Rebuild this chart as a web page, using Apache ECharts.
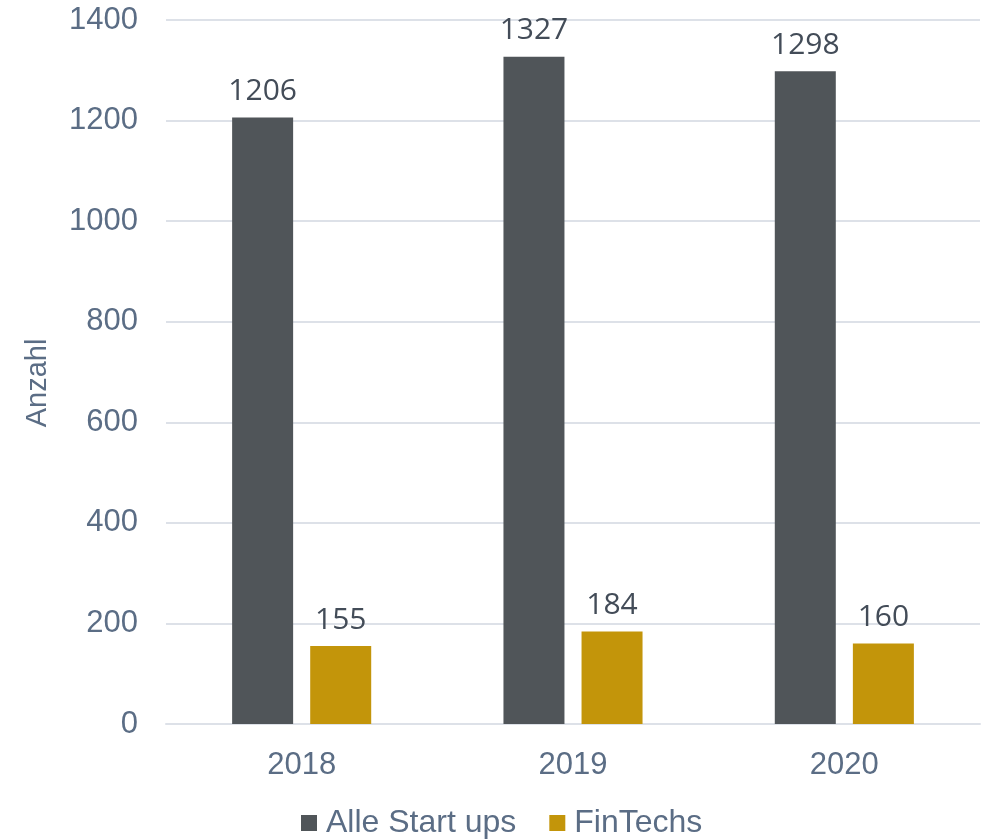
<!DOCTYPE html>
<html>
<head>
<meta charset="utf-8">
<script src="https://cdn.jsdelivr.net/npm/echarts@6/dist/echarts.min.js"></script>
<style>
html, body { margin: 0; padding: 0; background: #fff; }
#chart { width: 982px; height: 839px; }
</style>
</head>
<body>
<div id="chart"></div>
<script>
var years = ['2018', '2019', '2020'];
var alleStartups = [1206, 1327, 1298];
var finTechs = [155, 184, 160];

var chart = echarts.init(document.getElementById('chart'));

var labelStyle = {
    show: true,
    position: 'top',
    distance: 11,
    color: '#434c58',
    fontFamily: 'Open Sans',
    fontSize: 30
};

chart.setOption({
    animation: false,
    grid: {
        left: 166,
        right: 2,
        top: 20,
        bottom: 115
    },
    legend: {
        bottom: -5,
        left: 296,
        itemWidth: 16,
        itemHeight: 16,
        itemGap: 33,
        icon: 'rect',
        textStyle: {
            color: '#5b6d85',
            fontFamily: 'Liberation Sans',
            fontSize: 32,
            padding: [0, 0, 0, 4]
        },
        data: ['Alle Start ups', 'FinTechs']
    },
    xAxis: {
        type: 'category',
        data: years,
        axisTick: { show: false },
        axisLine: { lineStyle: { color: '#dde1e8', width: 2 } },
        axisLabel: {
            color: '#5b6d85',
            fontFamily: 'Liberation Sans',
            fontSize: 31,
            margin: 26
        }
    },
    yAxis: {
        type: 'value',
        min: 0,
        max: 1400,
        interval: 200,
        name: 'Anzahl',
        nameLocation: 'middle',
        nameGap: 114,
        nameTextStyle: {
            color: '#5b6d85',
            fontFamily: 'Liberation Sans',
            fontSize: 29,
            padding: [0, 22, 0, 0]
        },
        axisLabel: {
            color: '#5b6d85',
            fontFamily: 'Liberation Sans',
            fontSize: 31,
            margin: 28,
            formatter: function (v) { return String(v); }
        },
        splitLine: { lineStyle: { color: '#dde1e8', width: 2 } }
    },
    series: [
        {
            name: 'Alle Start ups',
            type: 'bar',
            data: alleStartups,
            barWidth: 61,
            barGap: '28%',
            itemStyle: { color: '#505559' },
            label: labelStyle
        },
        {
            name: 'FinTechs',
            type: 'bar',
            data: finTechs,
            barWidth: 61,
            itemStyle: { color: '#c3950a' },
            label: labelStyle
        }
    ]
});

window.onresize = function () {
    chart.resize();
};
</script>
</body>
</html>
